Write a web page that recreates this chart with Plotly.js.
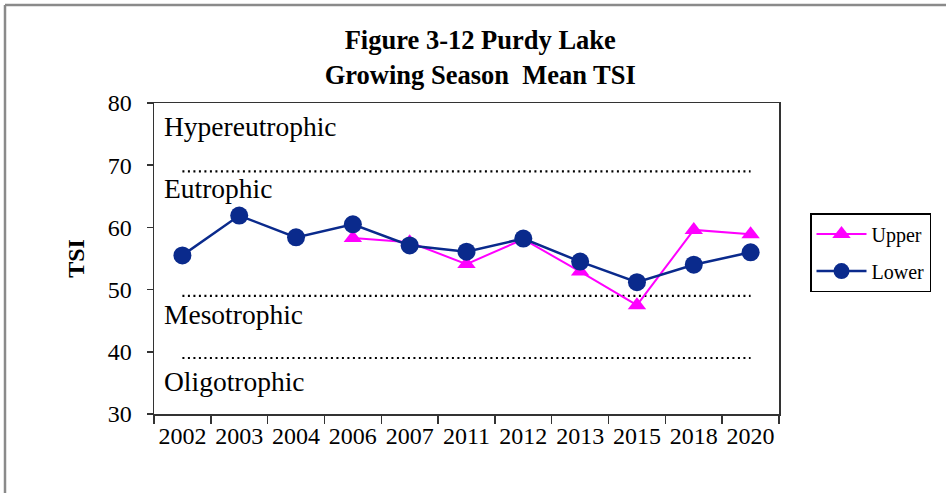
<!DOCTYPE html>
<html>
<head>
<meta charset="utf-8">
<script src="https://cdn.plot.ly/plotly-3.0.1.min.js"></script>
<style>
  html, body { margin: 0; padding: 0; background: #fff; }
  #chart { width: 946px; height: 493px; }
</style>
</head>
<body>
<div id="chart"></div>
<script>
const years = ['2002','2003','2004','2006','2007','2011','2012','2013','2015','2018','2020'];
const upperTSI = [null, null, null, 58.3, 57.6, 54.1, 58.1, 52.9, 47.5, 59.6, 58.9];
const lowerTSI = [55.5, 61.9, 58.4, 60.5, 57.1, 56.1, 58.2, 54.5, 51.2, 54.0, 56.0];
const boundaryValues = [69, 49, 39];
const stateNames = ['Hypereutrophic', 'Eutrophic', 'Mesotrophic', 'Oligotrophic'];
const stateLabelY = [76.3, 66.2, 46.0, 35.3];
const yTicks = [30, 40, 50, 60, 70, 80];

const serif = 'Liberation Serif';

const traces = [];
boundaryValues.forEach(function (v) {
  traces.push({
    x: [years[0], years[years.length - 1]],
    y: [v, v],
    type: 'scatter',
    mode: 'lines',
    line: { color: '#000', width: 2.2, dash: '2px,3.5px' },
    showlegend: false,
    hoverinfo: 'skip'
  });
});
traces.push({
  x: years, y: upperTSI, name: 'Upper', type: 'scatter', mode: 'lines+markers',
  legendgroup: 'upper', connectgaps: false,
  line: { color: '#ff00ff', width: 2 },
  marker: { symbol: 'triangle-up', size: 16, color: '#ff00ff' }
});
traces.push({
  x: years, y: lowerTSI, name: 'Lower', type: 'scatter', mode: 'lines+markers',
  legendgroup: 'lower',
  line: { color: '#0a2a8c', width: 2.5 },
  marker: { symbol: 'circle', size: 18, color: '#0a2a8c' }
});

const annotations = stateNames.map(function (s, i) {
  return {
    text: s, xref: 'paper', x: 0.0128, xanchor: 'left',
    yref: 'y', y: stateLabelY[i], yanchor: 'middle',
    showarrow: false, font: { family: serif, size: 27.5, color: '#000' }
  };
});

const X0 = -0.2384, Y0 = 1.315;
const layout = {
  width: 946, height: 493,
  margin: { l: 154, r: 167, t: 103, b: 79 },
  paper_bgcolor: '#fff', plot_bgcolor: '#fff',
  font: { family: serif, color: '#000' },
  title: {
    text: '<b>Figure 3-12 Purdy Lake<br>Growing Season  Mean TSI</b>',
    font: { family: serif, size: 26.5, color: '#000' },
    xref: 'paper', x: 0.522, xanchor: 'center',
    yref: 'container', y: 0.9, yanchor: 'top'
  },
  xaxis: {
    type: 'category',
    categoryorder: 'array', categoryarray: years,
    range: [-0.5, years.length - 0.5],
    showgrid: false, zeroline: false,
    showline: true, linecolor: '#333', linewidth: 1.5, mirror: true,
    ticks: 'outside', tickson: 'boundaries', ticklen: 8, tickwidth: 1.5, tickcolor: '#333',
    tickangle: 0,
    tickfont: { family: serif, size: 24, color: '#000' },
    fixedrange: true
  },
  yaxis: {
    range: [30, 80], tickvals: yTicks, ticktext: yTicks.map(String),
    showgrid: false, zeroline: false,
    showline: true, linecolor: '#333', linewidth: 1.5, mirror: true,
    ticks: 'outside', ticklen: 6, tickwidth: 1.5, tickcolor: '#333',
    ticklabelstandoff: 10,
    tickfont: { family: serif, size: 24, color: '#000' },
    title: { text: '<b>TSI</b>', font: { family: serif, size: 24, color: '#000' }, standoff: 16 },
    fixedrange: true
  },
  legend: {
    x: 1.0496, xanchor: 'left', y: 0.646, yanchor: 'top',
    bgcolor: '#fff', bordercolor: '#000', borderwidth: 1.5,
    font: { family: serif, size: 20, color: '#000' },
    itemwidth: 50, tracegroupgap: 8
  },
  annotations: annotations,
  shapes: [
    { type: 'line', xref: 'paper', yref: 'paper', x0: X0, y0: Y0, x1: 1.3, y1: Y0,
      line: { color: '#8a8a8a', width: 2.5 } },
    { type: 'line', xref: 'paper', yref: 'paper', x0: X0, y0: Y0, x1: X0, y1: -0.3,
      line: { color: '#8a8a8a', width: 2.5 } }
  ],
  showlegend: true
};

Plotly.newPlot('chart', traces, layout, { displayModeBar: false, staticPlot: true });
</script>
</body>
</html>
